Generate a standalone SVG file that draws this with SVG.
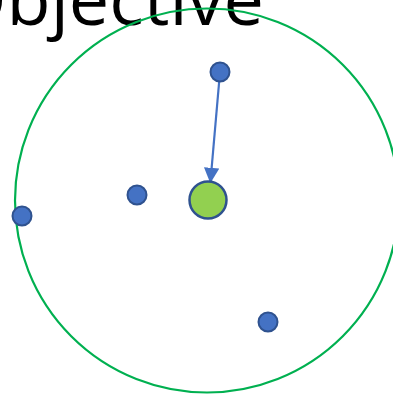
<svg xmlns="http://www.w3.org/2000/svg" width="393" height="397" viewBox="0 0 393 397">
<style>
.pt{fill:#4472C4;stroke:#2F528F;stroke-width:2}
.obj{fill:#92D050;stroke:#2F528F;stroke-width:2.5}
.lbl{font-family:"Open Sans","Liberation Sans",sans-serif;font-size:72px;fill:#000}
</style>
<defs>
<marker id="ah" markerWidth="7" markerHeight="7" refX="6" refY="3.5" orient="auto" markerUnits="strokeWidth">
<path d="M0,0 L7,3.5 L0,7 z" fill="#4472C4"/>
</marker>
</defs>
<text class="lbl" x="264" y="25" text-anchor="end">Objective</text>
<circle cx="207" cy="200.5" r="192" fill="none" stroke="#00B050" stroke-width="2.2"/>
<g id="connectors">
<line x1="220" y1="72" x2="210.5" y2="181" stroke="#4472C4" stroke-width="2.2" marker-end="url(#ah)"/>
</g>
<g id="objective"><circle class="obj" cx="208" cy="200" r="18.5"/></g>
<g id="p1"><circle class="pt" cx="220" cy="72" r="9.5"/></g>
<g id="p2"><circle class="pt" cx="137" cy="195" r="9.5"/></g>
<g id="p3"><circle class="pt" cx="22" cy="216" r="9.5"/></g>
<g id="p4"><circle class="pt" cx="268" cy="322" r="9.5"/></g>
</svg>
